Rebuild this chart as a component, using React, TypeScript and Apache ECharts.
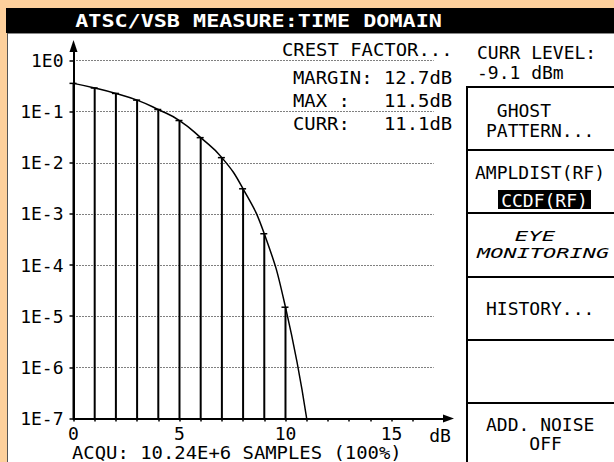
import React, { useEffect, useRef } from "react";
import * as echarts from "echarts";

// ---- data ----
const curveDb = [0, 1, 2, 3, 4, 5, 6, 7, 8, 9, 10, 11];
const curveCcdf = [0.357, 0.29, 0.227, 0.168, 0.11, 0.067, 0.031, 0.0126, 0.0031, 0.00041, 0.000015, 0.0000001];
const stemDb = [0, 1, 2, 3, 4, 5, 6, 7, 8, 9, 10];
const stemCcdf = [0.357, 0.29, 0.227, 0.168, 0.11, 0.067, 0.031, 0.0126, 0.0031, 0.00041, 0.000015];
const gridDecades = [1, 0.1, 0.01, 0.001, 0.0001, 0.00001, 0.000001];
const yTickValues = [1, 0.1, 0.01, 0.001, 0.0001, 0.00001, 0.000001, 0.0000001];
const xTickValues = [0, 1, 2, 3, 4, 5, 6, 7, 8, 9, 10, 11, 12, 13, 14, 15, 16];
const xLabelValues = [0, 5, 10, 15];
const titleText = "ATSC/VSB MEASURE:TIME DOMAIN";
const crestLines = ["MARGIN: 12.7dB", "MAX :   11.5dB", "CURR:   11.1dB"];
const acquText = "ACQU: 10.24E+6 SAMPLES (100%)";

const FONT = "DejaVu Sans Mono";
const ORANGE = "#FDD09C";

function txt(text: string, x: number, y: number, opts: any = {}) {
  return {
    type: "text",
    x,
    y,
    scaleX: opts.scaleX ?? 1.05,
    z: 20,
    style: {
      text,
      fill: opts.fill ?? "#000",
      fontSize: opts.fontSize ?? 18,
      fontFamily: FONT,
      fontWeight: opts.fontWeight ?? "normal",
      fontStyle: opts.fontStyle ?? "normal",
      lineHeight: opts.lineHeight,
      align: opts.align ?? "left",
      textAlign: opts.align ?? "left",
      verticalAlign: "middle",
      textVerticalAlign: "middle",
    },
  };
}

function hline(x1: number, x2: number, y: number, w = 2) {
  return { type: "line", z: 5, shape: { x1, y1: y, x2, y2: y }, style: { stroke: "#000", lineWidth: w } };
}

export default function App() {
  const ref = useRef<HTMLDivElement>(null);
  useEffect(() => {
    if (!ref.current) return;
    const chart = echarts.init(ref.current, undefined, { renderer: "svg" });
    const yMin = 1e-7;
    const panelTops = [87, 150, 213, 277, 340, 403];

    const graphic: any[] = [
      { type: "rect", z: 0, shape: { x: 6, y: 8, width: 608, height: 25 }, style: { fill: "#000" } },
      { type: "rect", z: 0, shape: { x: 8, y: 33, width: 606, height: 429 }, style: { fill: "#fff" } },
      { type: "line", z: 1, shape: { x1: 7.5, y1: 33, x2: 7.5, y2: 462 }, style: { stroke: "#555", lineWidth: 1 } },
      { type: "line", z: 1, shape: { x1: 8, y1: 33.5, x2: 614, y2: 33.5 }, style: { stroke: "#888", lineWidth: 1 } },
      txt(titleText, 258.5, 21, { fill: "#fff", fontWeight: "bold", fontSize: 17, align: "center", scaleX: 1.28 }),
      txt("CREST FACTOR...", 282, 50),
      txt(crestLines[0], 293, 78),
      txt(crestLines[1], 293, 101),
      txt(crestLines[2], 293, 124),
      // right panel
      { type: "line", z: 5, shape: { x1: 467, y1: 86, x2: 467, y2: 462 }, style: { stroke: "#000", lineWidth: 2 } },
      ...panelTops.map((y) => hline(467, 614, y)),
      txt("CURR LEVEL:\n-9.1 dBm", 477, 62, { scaleX: 1.0, lineHeight: 20 }),
      txt(" GHOST\nPATTERN...", 486, 120, { scaleX: 1.0, lineHeight: 20 }),
      txt("AMPLDIST(RF)", 475, 172, { scaleX: 1.0 }),
      { type: "rect", z: 10, shape: { x: 498, y: 190, width: 93, height: 19 }, style: { fill: "#000" } },
      txt("CCDF(RF)", 544.5, 200, { fill: "#fff", align: "center", scaleX: 1.0 }),
      txt("EYE", 535, 236, { fontStyle: "italic", fontSize: 14, align: "center", scaleX: 1.6 }),
      txt("MONITORING", 477, 253, { fontStyle: "italic", fontSize: 14, scaleX: 1.57 }),
      txt("HISTORY...", 486, 308, { scaleX: 1.0 }),
      txt("ADD. NOISE\n    OFF", 486, 433.5, { scaleX: 1.0, lineHeight: 19 }),
      // bottom
      txt("dB", 440, 435, { align: "center", scaleX: 1.0 }),
      txt(acquText, 72, 453),
    ];

    chart.setOption({
      animation: false,
      backgroundColor: ORANGE,
      graphic,
      grid: { left: 73.5, top: 46, width: 375, height: 372.5 },
      xAxis: {
        type: "value",
        min: 0,
        max: 17.69,
        axisLine: {
          show: true,
          symbol: ["none", "triangle"],
          symbolSize: [8, 11],
          lineStyle: { color: "#000", width: 2 },
        },
        axisTick: {
          show: true,
          inside: false,
          length: 3,
          customValues: xTickValues,
          lineStyle: { color: "#000", width: 1.5 },
        },
        axisLabel: {
          customValues: xLabelValues,
          margin: 6,
          color: "#000",
          fontFamily: FONT,
          fontSize: 18,
          formatter: (v: number) => String(v),
        },
        splitLine: { show: false },
      },
      yAxis: {
        type: "log",
        logBase: 10,
        min: yMin,
        max: 1.92,
        axisLine: {
          show: true,
          symbol: ["none", "triangle"],
          symbolSize: [8, 12],
          lineStyle: { color: "#000", width: 2 },
        },
        axisTick: {
          show: true,
          inside: false,
          length: 4,
          customValues: yTickValues,
          lineStyle: { color: "#000", width: 1.5 },
        },
        axisLabel: {
          customValues: yTickValues,
          margin: 10,
          color: "#000",
          fontFamily: FONT,
          fontSize: 18,
          formatter: (v: number) => {
            const e = Math.log10(v);
            if (Math.abs(e - Math.round(e)) > 1e-6) return "";
            return "1E" + Math.round(e);
          },
        },
        splitLine: { show: false },
      },
      series: [
        {
          type: "custom",
          z: 3,
          data: stemDb.map((d, i) => [d, stemCcdf[i]]),
          renderItem: (params: any, api: any) => {
            const x = api.value(0);
            const v = api.value(1);
            const top = api.coord([x, v]);
            const bot = api.coord([x, yMin]);
            return {
              type: "group",
              children: [
                {
                  type: "line",
                  shape: { x1: top[0], y1: bot[1], x2: top[0], y2: top[1] },
                  style: { stroke: "#000", lineWidth: 2 },
                },
                {
                  type: "line",
                  shape: { x1: top[0] - 4, y1: top[1], x2: top[0] + 3, y2: top[1] },
                  style: { stroke: "#000", lineWidth: 1.5 },
                },
              ],
            };
          },
        },
        {
          type: "line",
          z: 4,
          data: curveDb.map((d, i) => [d, curveCcdf[i]]),
          showSymbol: false,
          smooth: 0.5,
          lineStyle: { color: "#000", width: 1.5 },
          markLine: {
            silent: true,
            symbol: ["none", "none"],
            label: { show: false },
            lineStyle: { color: "#000", width: 1, type: [1, 2] },
            emphasis: { disabled: true },
            data: gridDecades.map((v) => [{ coord: [0, v] }, { coord: [17, v] }]),
          },
        },
      ],
    });
    return () => chart.dispose();
  }, []);

  return (
    <div style={{ position: "fixed", left: 0, top: 0, width: 614, height: 462, background: ORANGE }}>
      <div ref={ref} style={{ width: 614, height: 462 }} />
    </div>
  );
}
